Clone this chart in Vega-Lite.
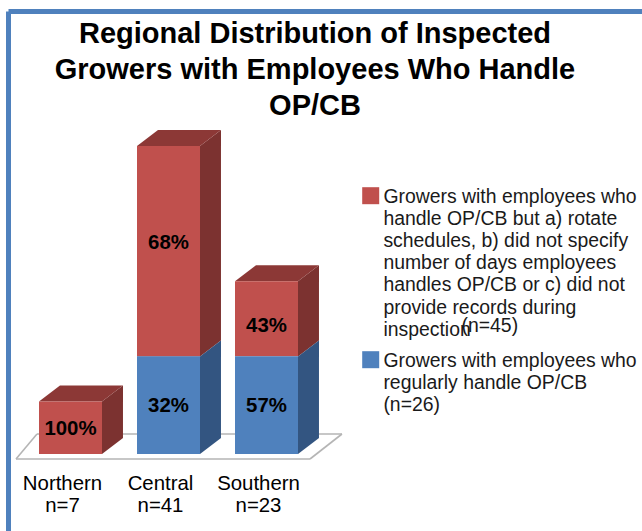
{
"$schema":"https://vega.github.io/schema/vega-lite/v6.json",
"width":634,"height":520,
"autosize":{"type":"none"},
"padding":{"left":8,"top":11,"right":0,"bottom":0},
"background":"white",
"config":{"view":{"stroke":null},"font":"Liberation Sans"},
"title":{"text":["Regional Distribution of Inspected","Growers with Employees Who Handle","OP/CB"],"font":"Liberation Sans","fontSize":29,"fontWeight":"bold","color":"black","lineHeight":36,"anchor":"middle","dx":-10,"offset":-139,"baseline":"bottom"},
"datasets":{
"bars":[
{"region":"Northern","series":"Growers with employees who handle OP/CB but a) rotate schedules, b) did not specify number of days employees handles OP/CB or c) did not provide records during inspection","count":7,"pct":1.00},
{"region":"Central","series":"Growers with employees who handle OP/CB but a) rotate schedules, b) did not specify number of days employees handles OP/CB or c) did not provide records during inspection","count":28,"pct":0.68},
{"region":"Central","series":"Growers with employees who regularly handle OP/CB","count":13,"pct":0.32},
{"region":"Southern","series":"Growers with employees who handle OP/CB but a) rotate schedules, b) did not specify number of days employees handles OP/CB or c) did not provide records during inspection","count":10,"pct":0.43},
{"region":"Southern","series":"Growers with employees who regularly handle OP/CB","count":13,"pct":0.57}
],
"regions":[{"region":"Northern","n":7},{"region":"Central","n":41},{"region":"Southern","n":23}]
},
"layer":[
{"data":{"values":[{"floor":1}]},"mark":{"type":"rule","color":"#b5b5b5","strokeWidth":1.6},
 "encoding":{"x":{"datum":-0.556,"type":"quantitative","scale":{"domain":[-0.6378,5.8316],"nice":false,"zero":false},"axis":{"orient":"top","domainColor":"#4f81bd","domainWidth":5,"ticks":false,"labels":false,"title":null,"grid":false}},"x2":{"datum":2.444},
 "y":{"datum":-0.666,"type":"quantitative","scale":{"domain":[-10.253,58.99],"nice":false,"zero":false},"axis":{"orient":"left","domainColor":"#4f81bd","domainWidth":5,"ticks":false,"labels":false,"title":null,"grid":false}},"y2":{"datum":-0.666}}},
{"data":{"values":[{"floor":1}]},"mark":{"type":"rule","color":"#b5b5b5","strokeWidth":1.6},
 "encoding":{"x":{"datum":2.444,"type":"quantitative"},"x2":{"datum":2.77},"y":{"datum":-0.666,"type":"quantitative"},"y2":{"datum":2.663}}},
{"data":{"values":[{"floor":1}]},"mark":{"type":"rule","color":"#b5b5b5","strokeWidth":1.6},
 "encoding":{"x":{"datum":2.77,"type":"quantitative"},"x2":{"datum":-0.342},"y":{"datum":2.663,"type":"quantitative"},"y2":{"datum":2.663}}},
{"data":{"values":[{"floor":1}]},"mark":{"type":"rule","color":"#b5b5b5","strokeWidth":1.6},
 "encoding":{"x":{"datum":-0.342,"type":"quantitative"},"x2":{"datum":-0.556},"y":{"datum":2.663,"type":"quantitative"},"y2":{"datum":-0.666}}},
{"data":{"name":"bars"},
 "transform":[
  {"stack":"count","groupby":["region"],"sort":[{"field":"series","order":"descending"}],"as":["s0","s1"]},
  {"calculate":"indexof(['Northern','Central','Southern'],datum.region)","as":"i"},
  {"calculate":"[0,1]","as":"k"},{"flatten":["k"]},
  {"calculate":"datum.i+0.3214+datum.k*0.214","as":"px"},
  {"calculate":"datum.s0+datum.k*2.13","as":"lo"},
  {"calculate":"datum.s1+datum.k*2.13","as":"hi"}
 ],
 "mark":{"type":"area","interpolate":"linear"},
 "encoding":{"x":{"field":"px","type":"quantitative"},"y":{"field":"lo","type":"quantitative","stack":null},"y2":{"field":"hi"},
  "detail":[{"field":"region"},{"field":"series"}],
  "color":{"condition":{"test":"indexof(datum.series,'but a)')>=0","value":"#7c3230"},"value":"#335581"}}},
{"data":{"name":"bars"},
 "transform":[
  {"stack":"count","groupby":["region"],"sort":[{"field":"series","order":"descending"}],"as":["s0","s1"]},
  {"filter":"indexof(datum.series,'but a)')>=0"},
  {"calculate":"indexof(['Northern','Central','Southern'],datum.region)","as":"i"},
  {"calculate":"[0,1,2,3]","as":"k"},{"flatten":["k"]},
  {"calculate":"datum.i+[-0.3214,-0.1074,0.3214,0.5354][datum.k]","as":"px"},
  {"calculate":"datum.s1+[0,0,0,2.13][datum.k]","as":"lo"},
  {"calculate":"datum.s1+[0,2.13,2.13,2.13][datum.k]","as":"hi"}
 ],
 "mark":{"type":"area","interpolate":"linear","color":"#8c3836"},
 "encoding":{"x":{"field":"px","type":"quantitative"},"y":{"field":"lo","type":"quantitative","stack":null},"y2":{"field":"hi"},"detail":{"field":"region"}}},
{"data":{"name":"bars"},
 "transform":[
  {"stack":"count","groupby":["region"],"sort":[{"field":"series","order":"descending"}],"as":["s0","s1"]},
  {"calculate":"indexof(['Northern','Central','Southern'],datum.region)","as":"i"},
  {"calculate":"datum.i-0.3214","as":"xl"},{"calculate":"datum.i+0.3214","as":"xr"}
 ],
 "mark":{"type":"rect"},
 "encoding":{"x":{"field":"xl","type":"quantitative"},"x2":{"field":"xr"},"y":{"field":"s0","type":"quantitative"},"y2":{"field":"s1"},
  "color":{"field":"series","type":"nominal","scale":{"domain":["Growers with employees who handle OP/CB but a) rotate schedules, b) did not specify number of days employees handles OP/CB or c) did not provide records during inspection","Growers with employees who regularly handle OP/CB"],"range":["#c0504d","#4f81bd"]},
   "legend":{"orient":"none","legendX":353,"legendY":175,"title":null,"symbolType":"square","symbolSize":289,"symbolStrokeWidth":0,"symbolOpacity":1,"labelFontSize":19.4,"labelFont":"Liberation Sans","labelColor":"#1a1a1a","labelLimit":400,"labelOffset":3,"labelBaseline":"top","rowPadding":10,
    "encode":{"labels":{"update":{"lineHeight":{"value":22.2},"dy":{"value":-8}}}},
    "labelExpr":"datum.label.length>60 ? ['Growers with employees who','handle OP/CB but a) rotate','schedules, b) did not specify','number of days employees','handles OP/CB or c) did not','provide records during','inspection'] : ['Growers with employees who','regularly handle OP/CB','(n=26)']"}}}},
{"data":{"name":"bars"},
 "transform":[
  {"stack":"count","groupby":["region"],"sort":[{"field":"series","order":"descending"}],"as":["s0","s1"]},
  {"filter":"datum.pct!=0.68 && datum.pct!=0.43"},
  {"calculate":"indexof(['Northern','Central','Southern'],datum.region)","as":"i"},
  {"calculate":"(datum.s0+datum.s1)/2","as":"mid"}
 ],
 "mark":{"type":"text","font":"Liberation Sans","fontWeight":"bold","fontSize":20.4,"color":"black","baseline":"middle","dy":1},
 "encoding":{"x":{"field":"i","type":"quantitative"},"y":{"field":"mid","type":"quantitative"},"text":{"field":"pct","format":".0%"}}},
{"data":{"name":"bars"},
 "transform":[
  {"stack":"count","groupby":["region"],"sort":[{"field":"series","order":"descending"}],"as":["s0","s1"]},
  {"filter":"datum.pct==0.68"},
  {"calculate":"indexof(['Northern','Central','Southern'],datum.region)","as":"i"},
  {"calculate":"(datum.s0+datum.s1)/2","as":"mid"}
 ],
 "mark":{"type":"text","font":"Liberation Sans","fontWeight":"bold","fontSize":20.4,"color":"black","baseline":"middle","dy":-8},
 "encoding":{"x":{"field":"i","type":"quantitative"},"y":{"field":"mid","type":"quantitative"},"text":{"field":"pct","format":".0%"}}},
{"data":{"name":"bars"},
 "transform":[
  {"stack":"count","groupby":["region"],"sort":[{"field":"series","order":"descending"}],"as":["s0","s1"]},
  {"filter":"datum.pct==0.43"},
  {"calculate":"indexof(['Northern','Central','Southern'],datum.region)","as":"i"},
  {"calculate":"(datum.s0+datum.s1)/2","as":"mid"}
 ],
 "mark":{"type":"text","font":"Liberation Sans","fontWeight":"bold","fontSize":20.4,"color":"black","baseline":"middle","dy":7},
 "encoding":{"x":{"field":"i","type":"quantitative"},"y":{"field":"mid","type":"quantitative"},"text":{"field":"pct","format":".0%"}}},
{"data":{"name":"regions"},
 "transform":[
  {"calculate":"indexof(['Northern','Central','Southern'],datum.region)","as":"i"},
  {"calculate":"datum.region+'\\nn='+datum.n","as":"label"}
 ],
 "mark":{"type":"text","font":"Liberation Sans","fontSize":20.4,"color":"black","baseline":"top","align":"center","lineBreak":"\n","lineHeight":22.5,"dx":-8},
 "encoding":{"x":{"field":"i","type":"quantitative"},"y":{"datum":-2.6,"type":"quantitative"},"text":{"field":"label"}}},
{"data":{"values":[{"note":"(n=45)"}]},
 "mark":{"type":"text","font":"Liberation Sans","fontSize":19.4,"color":"#1a1a1a","baseline":"middle","align":"left"},
 "encoding":{"x":{"datum":3.99,"type":"quantitative"},"y":{"datum":17.04,"type":"quantitative"},"text":{"field":"note"}}}
]
}
